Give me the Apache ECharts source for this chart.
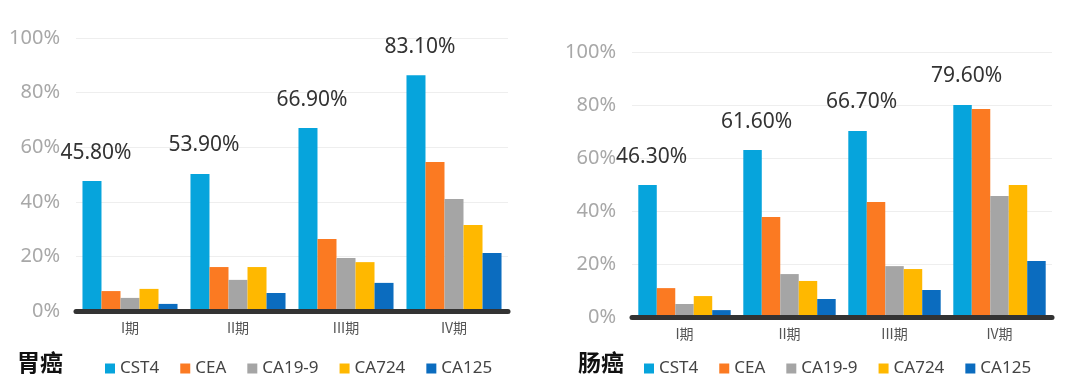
<!DOCTYPE html>
<html>
<head>
<meta charset="utf-8">
<script src="https://cdn.jsdelivr.net/npm/echarts@6/dist/echarts.min.js"></script>
<style>
  html, body { margin: 0; padding: 0; background: #fff; }
  #chart { width: 1080px; height: 378px; }
</style>
</head>
<body>
<div id="chart"></div>
<script>
const stages = ["I期", "II期", "III期", "IV期"];
const markers = ["CST4", "CEA", "CA19-9", "CA724", "CA125"];
const yTicks = [0, 20, 40, 60, 80, 100];

// 胃癌
const stomachCST4 = [47.6, 50.2, 67.0, 86.4];
const stomachCEA = [7.3, 16.1, 26.4, 54.6];
const stomachCA199 = [4.8, 11.4, 19.4, 41.0];
const stomachCA724 = [8.1, 16.1, 17.9, 31.5];
const stomachCA125 = [2.6, 6.6, 10.3, 21.2];
const stomachLabels = ["45.80%", "53.90%", "66.90%", "83.10%"];

// 肠癌
const colonCST4 = [49.8, 63.0, 70.2, 80.0];
const colonCEA = [10.9, 37.7, 43.4, 78.5];
const colonCA199 = [4.9, 16.2, 19.2, 45.7];
const colonCA724 = [7.9, 13.6, 18.1, 49.8];
const colonCA125 = [2.6, 6.8, 10.2, 21.1];
const colonLabels = ["46.30%", "61.60%", "66.70%", "79.60%"];

const colors = ["#06a4dc", "#fb7a22", "#a5a5a5", "#ffb800", "#0b6cbf"];
const font = "Noto Sans";
const cjkFont = "Noto Sans CJK SC";

const chart = echarts.init(document.getElementById("chart"));

function makeSeries(idx, lists, labels) {
  return lists.map((values, i) => {
    const s = {
      name: markers[i],
      type: "bar",
      xAxisIndex: idx,
      yAxisIndex: idx,
      data: values,
      barGap: "0%",
      barCategoryGap: "12%",
      itemStyle: {color: colors[i]}
    };
    if (i === 0) {
      // 只在 CST4 柱子上标数字
      s.label = {
        show: true,
        position: "top",
        distance: 5,
        offset: [4, -13],
        fontFamily: font,
        fontSize: 21,
        color: "#333",
        formatter: (p) => labels[p.dataIndex]
      };
    }
    return s;
  });
}

function xAxis(idx) {
  return {
    type: "category",
    gridIndex: idx,
    data: stages,
    z: 5,
    axisTick: {show: false},
    axisLine: {lineStyle: {color: "#333", width: 5}},
    axisLabel: {color: "#555", fontSize: 14, margin: 10, fontFamily: cjkFont}
  };
}

function yAxis(idx) {
  return {
    type: "value",
    gridIndex: idx,
    min: yTicks[0],
    max: yTicks[yTicks.length - 1],
    interval: yTicks[1] - yTicks[0],
    axisLine: {show: false},
    axisTick: {show: false},
    axisLabel: {
      formatter: "{value}%",
      color: "#a8a8a8",
      fontSize: 20,
      margin: 16,
      fontFamily: font
    },
    splitLine: {lineStyle: {color: "#eeeeee", width: 1}}
  };
}

function legend(left) {
  return {
    left: left,
    top: 355,
    data: markers,
    icon: "rect",
    itemWidth: 10,
    itemHeight: 10,
    itemGap: 21,
    textStyle: {fontSize: 17, color: "#444", fontFamily: font}
  };
}

const option = {
  animation: false,
  color: colors,
  title: [
    {text: "胃癌", left: 12, top: 346, textStyle: {fontSize: 23, fontWeight: "bold", color: "#111", fontFamily: cjkFont}},
    {text: "肠癌", left: 573, top: 346, textStyle: {fontSize: 23, fontWeight: "bold", color: "#111", fontFamily: cjkFont}}
  ],
  legend: [legend(100), legend(639)],
  grid: [
    {left: 76, width: 432, top: 38, height: 273},
    {left: 632, width: 420, top: 52, height: 265}
  ],
  xAxis: [xAxis(0), xAxis(1)],
  yAxis: [yAxis(0), yAxis(1)],
  series: [
    ...makeSeries(0, [stomachCST4, stomachCEA, stomachCA199, stomachCA724, stomachCA125], stomachLabels),
    ...makeSeries(1, [colonCST4, colonCEA, colonCA199, colonCA724, colonCA125], colonLabels)
  ]
};

chart.setOption(option);
</script>
</body>
</html>
